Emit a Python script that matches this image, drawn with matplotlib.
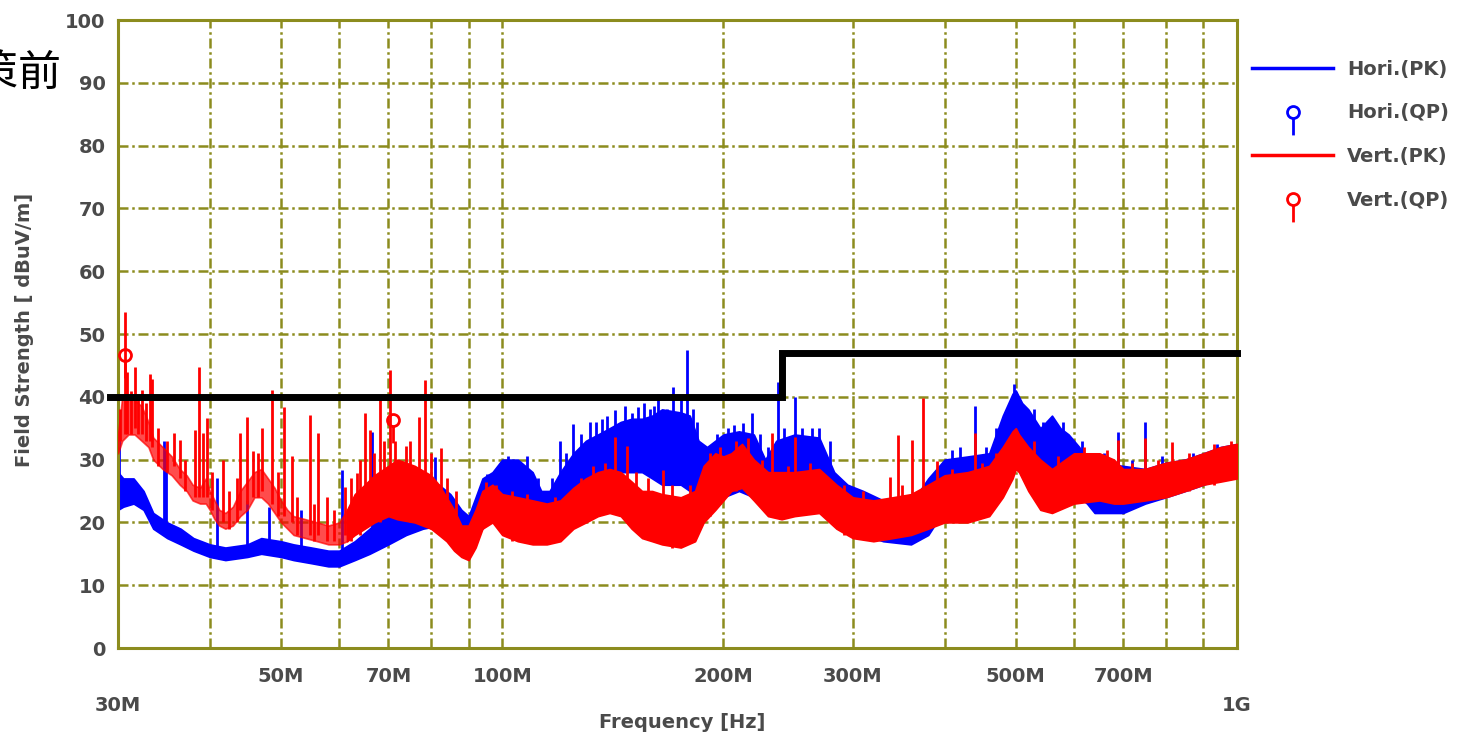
import matplotlib
matplotlib.use("Agg")
import numpy as np
import matplotlib.pyplot as plt
from matplotlib.lines import Line2D
from matplotlib.path import Path

# ---- measured data (MHz, dBuV/m) ----
# horizontal polarisation, peak detector: band envelope
hori_freq = [30.0, 30.5, 31.5, 32.5, 33.5, 35.0, 36.5, 38.0, 40.0, 42.0, 45.0, 47.0,
             50.0, 52.0, 55.0, 58.0, 60.0, 63.0, 66.0, 70.0, 74.0, 78.0, 82.0, 85.0,
             88.0, 90.0, 92.0, 94.0, 97.0, 100.0, 105.0, 110.0, 113.0, 116.0, 120.0,
             125.0, 130.0, 135.0, 140.0, 145.0, 150.0, 155.0, 160.0, 165.0, 175.0,
             180.0, 185.0, 190.0, 200.0, 210.0, 220.0, 228.0, 236.0, 250.0, 270.0,
             283.0, 295.0, 310.0, 330.0, 360.0, 380.0, 400.0, 430.0, 460.0, 480.0,
             495.0, 500.0, 510.0, 520.0, 540.0, 560.0, 575.0, 590.0, 610.0, 625.0,
             640.0, 700.0, 750.0, 800.0, 850.0, 900.0, 950.0, 1000.0]
hori_low = [22, 22.5, 23, 22, 19, 17.5, 16.5, 15.5, 14.5, 14, 14.5, 15,
            14.5, 14, 13.5, 13, 13, 14, 15, 16.5, 18, 19, 19.5, 18,
            16.5, 16.5, 18, 19, 21, 22, 22, 21, 20, 20, 21,
            23, 25, 26, 27, 28, 28, 28, 27, 26, 26,
            25, 23, 22, 24, 25, 24, 23, 23, 24, 24,
            22, 19, 18, 17, 16.5, 18, 22, 22, 24, 28,
            31, 31, 30, 28, 27, 26, 26, 25, 24, 23,
            21.5, 21.5, 23, 24, 25, 26, 27, 27.5]
hori_high = [28, 27, 27, 25, 21.5, 20, 19, 17.5, 16.5, 16, 16.5, 17.5,
             17, 16.5, 16, 15.5, 15.5, 17, 19, 22, 24, 25, 26, 24.5,
             22, 21, 24, 27, 28, 30, 30, 28, 25, 25, 28,
             31, 33, 34, 35, 36, 36.5, 36.5, 37, 38, 37.5,
             37, 33, 32, 34, 34.5, 34, 30, 33, 34, 33.5,
             28, 26, 25, 23.5, 23, 27, 30, 30.5, 31, 37,
             40.5, 41, 39, 38, 35, 37, 35, 34, 32, 30,
             29.5, 29, 28.5, 29.5, 30, 31, 32, 32.5]
# narrow emissions standing out of the horizontal band
hori_spike_freq = [30.05, 34.6, 34.9, 40.9, 44.9, 48.1, 53.3, 60.5, 66.4, 81.0,
                   95.3, 101.8, 104.6, 108.0, 112.0, 117.0, 120.0, 122.0, 125.0,
                   128.0, 131.6, 134.0, 136.6, 139.0, 142.4, 147.0, 150.0, 153.2,
                   156.0, 158.9, 161.0, 163.1, 167.4, 171.0, 175.0, 178.7, 182.0,
                   184.0, 196.0, 203.0, 207.0, 212.9, 218.6, 224.0, 230.0, 237.5,
                   242.0, 250.3, 256.0, 263.7, 270.0, 279.3, 410.0, 420.0, 440.0,
                   455.0, 470.0, 497.0, 530.0, 545.0, 580.0, 615.0, 660.0, 689.0,
                   720.0, 749.0, 790.0, 870.0, 940.0]
hori_spike_base = [24, 19, 18, 15, 15, 16, 15, 14, 17, 21,
                   22, 25, 25, 25, 23, 23, 24, 25, 26,
                   27, 28, 28, 29, 29, 29, 30, 30, 30,
                   30, 30, 30, 30, 30, 30, 30, 30, 30,
                   27, 26, 27, 27, 28, 28, 28, 26, 26,
                   26, 27, 27, 27, 27, 25, 25, 25, 25,
                   26, 28, 33, 30, 29, 29, 27, 25, 24,
                   24, 24, 25, 26, 27]
hori_spike_top = [34, 33, 31.5, 27, 23.6, 22.5, 22, 28.3, 34.4, 30.4,
                  27.7, 30.5, 30, 30.5, 27, 27, 33, 31, 35.6,
                  34, 36, 36, 36.5, 37, 37.9, 38.5, 37.5, 38.4,
                  39, 38, 38.5, 40.5, 38, 41.6, 40, 47.5, 38,
                  36, 34, 35, 35.5, 35.8, 37.5, 34, 32, 42.3,
                  35, 39.9, 35, 35, 35, 33, 31.5, 32, 38.6,
                  32, 35, 42, 38, 36, 36, 33, 31, 34.4,
                  30, 36, 30.5, 31, 32.5]

# vertical polarisation, peak detector: band envelope
vert_freq = [30.0, 30.4, 31.0, 31.6, 32.3, 33.0, 33.5, 34.5, 35.5, 36.4, 37.2, 37.9,
             38.8, 39.5, 40.0, 40.6, 41.2, 42.0, 43.0, 44.0, 45.0, 46.0, 47.0, 48.0,
             49.0, 50.0, 51.0, 52.0, 54.0, 56.0, 58.0, 60.0, 61.5, 63.0, 65.0, 67.0,
             70.0, 72.0, 76.0, 80.0, 82.0, 84.0, 86.0, 88.0, 90.0, 92.0, 94.0, 97.0,
             100.0, 105.0, 110.0, 115.0, 120.0, 125.0, 130.0, 135.0, 140.0, 145.0,
             150.0, 155.0, 160.0, 165.0, 175.0, 183.0, 188.0, 195.0, 200.0, 205.0,
             212.0, 220.0, 230.0, 240.0, 250.0, 270.0, 285.0, 300.0, 320.0, 340.0,
             360.0, 380.0, 400.0, 430.0, 460.0, 480.0, 495.0, 500.0, 505.0, 520.0,
             540.0, 560.0, 600.0, 650.0, 680.0, 700.0, 750.0, 800.0, 850.0, 900.0,
             950.0, 1000.0]
vert_low = [31, 33, 34, 34, 33, 32, 30, 28.5, 27.5, 26, 25, 23.5,
            23, 23, 22, 20.5, 19.5, 19, 19.5, 21, 22, 24, 24, 23,
            21.5, 20, 19, 18, 17.5, 17, 16.5, 16.5, 17, 18, 19, 20,
            21, 20.5, 20, 19, 18, 17, 15.5, 14.5, 14, 16, 19, 20,
            18, 17, 16.5, 16.5, 17, 19, 20, 21, 21.5, 21,
            19, 17.5, 17, 16.5, 16, 17, 20, 22, 23.5, 25,
            25.5, 23.5, 21, 20.5, 21, 21.5, 19, 17.5, 17, 17.5,
            18, 19, 20, 20, 21, 24, 27, 28.5, 28, 25,
            22, 21.5, 23, 23.5, 23, 23, 23.5, 24, 25, 26,
            26.5, 27]
vert_high = [34, 40, 40, 39.5, 38.5, 36, 33.5, 32, 30.5, 28.5, 27.5, 26,
             25.5, 27, 25, 23.5, 22, 21.5, 22.5, 25, 26.5, 28, 28.5, 27,
             25.5, 23.5, 22, 21, 20.5, 20, 19.5, 20, 22, 24.5, 26, 27.5,
             29, 30, 29, 27.5, 26, 24, 22, 19.5, 19.5, 22, 25, 26,
             24.5, 24, 23.5, 23, 23.5, 25.5, 27, 28, 28.5, 28,
             26.5, 25, 25, 24.5, 24, 25, 29, 31, 30.5, 31,
             32.5, 30, 28, 28, 28, 28.5, 26, 24, 23.5, 24,
             24.5, 26, 27.5, 28, 29, 32, 34.5, 35, 34, 32,
             30, 28.5, 31, 31, 30, 28.5, 28.5, 29.5, 30, 31,
             32, 32.5]
vert_spike_freq = [30.2, 30.66, 30.9, 31.2, 31.6, 31.9, 32.3, 32.7, 33.2, 33.4,
                   34.0, 35.0, 35.7, 36.4, 37.0, 38.2, 38.7, 39.2, 39.7, 40.3,
                   41.7, 42.5, 43.5, 44.0, 44.9, 45.8, 46.5, 47.1, 48.6, 49.5,
                   50.4, 51.7, 52.5, 54.8, 55.5, 56.2, 57.7, 59.0, 61.1, 62.2,
                   63.4, 64.0, 65.1, 66.1, 67.0, 68.2, 69.0, 70.3, 71.5, 73.9,
                   75.0, 77.0, 78.6, 80.0, 82.6, 84.0, 86.5, 95.0, 98.0, 103.0,
                   108.0, 118.0, 128.0, 133.0, 138.0, 142.4, 147.7, 152.0, 158.0,
                   165.7, 170.0, 180.0, 191.8, 198.0, 208.0, 216.0, 226.0, 232.6,
                   245.0, 250.3, 262.0, 292.0, 310.0, 337.0, 346.0, 350.0, 361.0,
                   374.0, 390.0, 410.0, 440.0, 450.0, 470.0, 530.0, 570.0, 620.0,
                   665.0, 689.0, 720.0, 749.0, 780.0, 815.0, 860.0, 930.0, 980.0]
vert_spike_base = [33, 34, 34, 34, 35, 34, 34, 33, 33, 32,
                   29, 28, 29, 27, 25, 24, 24, 24, 24, 22,
                   20, 19, 20, 22, 23, 24, 24, 25, 23, 21,
                   21, 20, 18, 18, 17, 18, 17, 17, 18, 17,
                   19, 18, 20, 20, 20, 20, 21, 21, 21, 21,
                   20, 20, 20, 19, 18, 17, 16, 20, 20, 17,
                   17, 17, 20, 21, 22, 22, 21, 19, 18,
                   18, 16, 17, 21, 23, 25, 25, 23, 22,
                   21, 22, 22, 18, 18, 19, 19, 19, 19,
                   19, 20, 20, 21, 21, 23, 24, 22, 24,
                   24, 24, 24, 24, 24, 25, 25, 26, 27]
vert_spike_top = [38, 53.5, 44, 41, 44.8, 40, 41.1, 39, 43.7, 42.9,
                  35, 33, 34.2, 33.1, 30, 34.7, 44.8, 34.2, 36.6, 28,
                  30, 25, 27, 34.2, 36.8, 31.3, 31, 35, 41.1, 28,
                  38.4, 30.5, 24, 37.1, 23, 34.2, 24.1, 22, 25.7, 27,
                  27.8, 30, 37.4, 34.7, 31, 40, 33, 44.3, 33, 32.1,
                  33, 36.8, 42.7, 31, 31.8, 27, 25, 26.5, 26, 25,
                  24.5, 24, 27, 29, 29.4, 33.6, 32.1, 28, 27,
                  28.3, 26, 26, 31, 32, 33, 33.5, 30, 34.2,
                  29, 33.6, 29.5, 26, 25, 27.3, 33.9, 26, 33.1,
                  39.8, 29.7, 28.5, 34.2, 29.5, 31, 33, 30.5, 32,
                  31.5, 33.1, 29.5, 33.4, 30, 32.8, 31, 32.5, 33]

# quasi-peak readings, vertical polarisation
vert_qp_freq = [30.7, 71.0]
vert_qp_level = [46.7, 36.3]

# radiated emission limit
limit_freq = [29.3, 240.0, 240.0, 1000.0]
limit_level = [40, 40, 47, 47]

major_ticks = [40, 50, 60, 70, 80, 90, 100, 200, 300, 400, 500, 600, 700, 800, 900]
major_labels = ['', '50M', '', '70M', '', '', '100M', '200M', '300M', '', '500M',
                '', '700M', '', '']
end_ticks = [30, 1000]
end_labels = ['30M', '1G']

OLIVE = '#8c8c1e'
TXT = '#4a4a4a'

fig = plt.figure(figsize=(14.58, 7.38), dpi=100)
ax = fig.add_axes([118 / 1458, 1 - 648 / 738, 1119 / 1458, 628 / 738])
ax.set_xscale('log')

# horizontal trace first, vertical drawn over it
ax.fill_between(hori_freq, hori_low, hori_high, color='blue', lw=1.2, zorder=2)
ax.vlines(hori_spike_freq, hori_spike_base, hori_spike_top, color='blue', lw=2, zorder=2)

vf = np.array(vert_freq)
vl = np.array(vert_low)
vh = np.array(vert_high)
early = vf <= 61.5
late = vf >= 61.5
ax.fill_between(vf[early], vl[early], vh[early], color='red', alpha=0.7, lw=1.2, zorder=3)
ax.fill_between(vf[late], vl[late], vh[late], color='red', lw=1.2, zorder=3)
ax.vlines(vert_spike_freq, vert_spike_base, vert_spike_top, color='red', lw=2, zorder=3)

ax.plot(limit_freq, limit_level, color='black', lw=5, zorder=5, clip_on=False,
        solid_joinstyle='miter')

# QP marker: open circle with a short stem underneath
r, stem = 6, 17
qp_path = Path.make_compound_path(Path.circle((0, 0), r),
                                  Path([(0, -r), (0, -r - stem)], [Path.MOVETO, Path.LINETO]))
ax.plot(vert_qp_freq, vert_qp_level, ls='none', marker=qp_path, ms=33, mfc='none',
        mec='red', mew=2, zorder=6)

ax.set_xlim(30, 1000)
ax.set_ylim(0, 100)
ax.set_xticks(major_ticks, major_labels)
ax.set_xticks(end_ticks, end_labels, minor=True)
ax.set_yticks(range(0, 101, 10))
ax.set_axisbelow(True)
ax.grid(True, which='major', color=OLIVE, lw=1.8, linestyle=(0, (4, 1.5, 1, 1.5)))
ax.tick_params(axis='both', which='both', length=0, labelsize=14, labelcolor=TXT)
ax.tick_params(axis='x', which='major', pad=13.5)
ax.tick_params(axis='x', which='minor', pad=34.5)
ax.tick_params(axis='y', pad=9)
for lab in ax.get_xticklabels(which='both') + ax.get_yticklabels():
    lab.set_fontweight('bold')
for sp in ax.spines.values():
    sp.set_color(OLIVE)
    sp.set_linewidth(2.2)

ax.set_xlabel('Frequency [Hz]', fontsize=14, fontweight='bold', color=TXT, va='center')
ax.xaxis.set_label_coords((682.5 - 118) / 1119, (648 - 722) / 628)
ax.set_ylabel('Field Strength [ dBuV/m]', fontsize=14, fontweight='bold', color=TXT,
              va='center')
ax.yaxis.set_label_coords((25 - 118) / 1119, (648 - 330) / 628)

handles = [Line2D([], [], color='blue', lw=2.5),
           Line2D([], [], ls='none', marker=qp_path, ms=33, mfc='none', mec='blue', mew=2),
           Line2D([], [], color='red', lw=2.5),
           Line2D([], [], ls='none', marker=qp_path, ms=33, mfc='none', mec='red', mew=2)]
labels = ['Hori.(PK)', 'Hori.(QP)', 'Vert.(PK)', 'Vert.(QP)']
leg = fig.legend(handles, labels, loc='upper left', bbox_to_anchor=(1244 / 1458, 1 - 52 / 738),
                 frameon=False, borderaxespad=0, borderpad=0.4, handlelength=4.2,
                 handletextpad=0.7, labelspacing=1.27,
                 prop={'size': 14, 'weight': 'bold'})
for t in leg.get_texts():
    t.set_color(TXT)

fig.text(62 / 1458, 1 - 74 / 738, '対策前', ha='right', va='center', fontsize=31,
         family=['Noto Sans CJK JP', 'DejaVu Sans'], color='black')

fig.savefig('out.png', dpi=100)
